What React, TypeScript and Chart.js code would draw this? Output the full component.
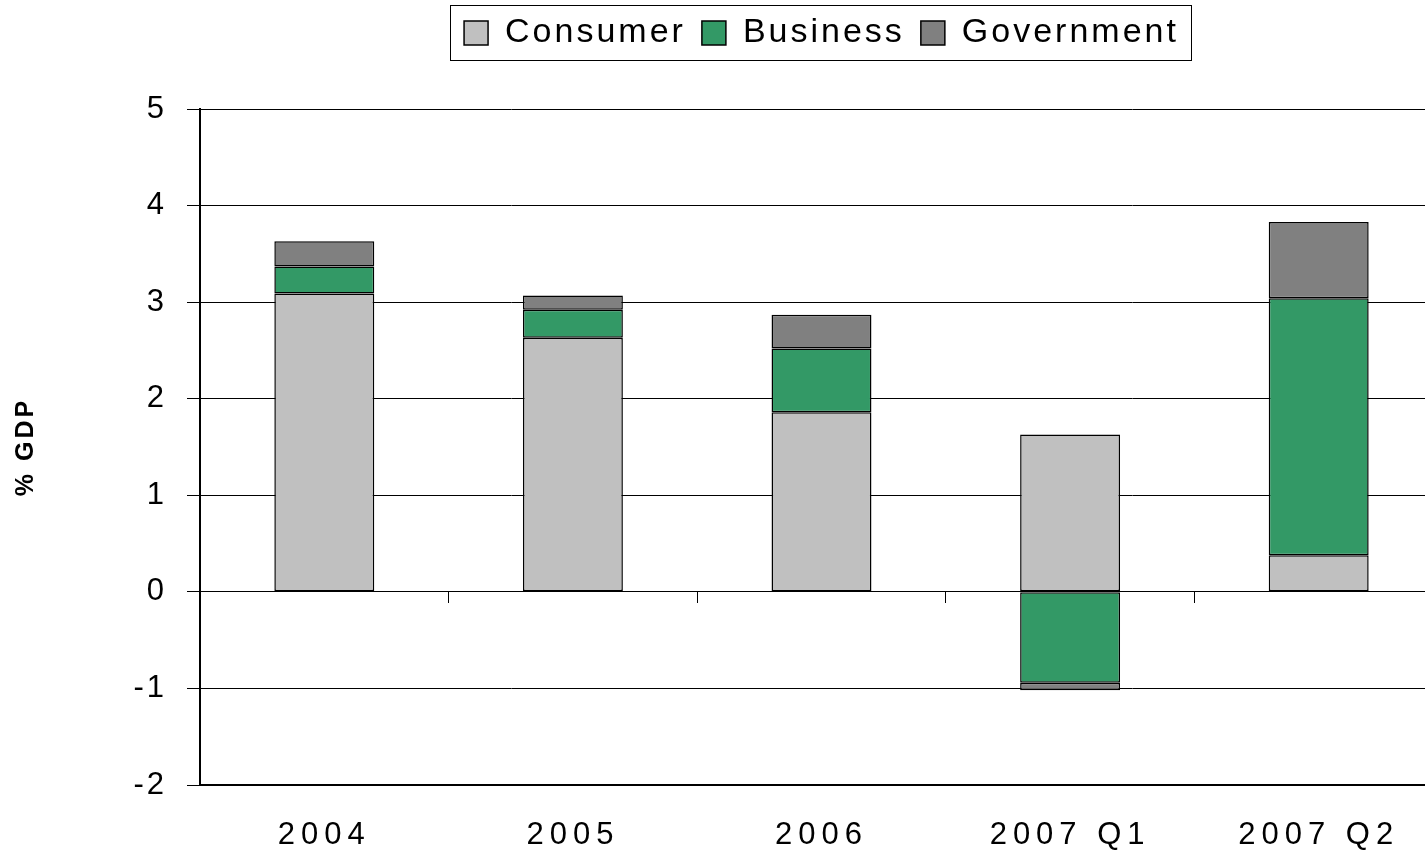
import React, { useEffect, useRef } from "react";
import { Chart, registerables } from "chart.js";

Chart.register(...registerables);

const categories = ["2004", "2005", "2006", "2007 Q1", "2007 Q2"];
const consumer = [3.09, 2.63, 1.86, 1.63, 0.38];
const business = [0.28, 0.29, 0.66, -0.94, 2.66];
const government = [0.26, 0.15, 0.35, -0.08, 0.79];
const yTicks = [-2, -1, 0, 1, 2, 3, 4, 5];

const FONT = "'Liberation Sans', Arial, sans-serif";

const spacingPlugin = {
  id: "spacingPlugin",
  beforeLayout(chart: any) {
    chart.ctx.letterSpacing = "3px";
  },
  afterLayout(chart: any) {
    const lg = chart.legend;
    if (lg) {
      const dy = lg.top;
      lg.top -= dy;
      lg.bottom -= dy;
      lg.left = chart.chartArea.left;
      lg.right = chart.chartArea.right;
      lg.width = lg.right - lg.left;
    }
  },
  beforeDraw(chart: any) {
    chart.ctx.letterSpacing = "3px";
  },
  afterDatasetsDraw(chart: any) {
    chart.ctx.letterSpacing = "6px";
  },
  afterDraw(chart: any) {
    const ctx = chart.ctx;
    ctx.letterSpacing = "0px";
    const lg = chart.legend;
    if (!lg || !lg.lineWidths) return;
    const pad = lg.options.labels.padding;
    const L = lg.lineWidths[0];
    const startX = (lg.left + pad + lg.right - L) / 2;
    const endX = startX + L - pad;
    ctx.save();
    ctx.strokeStyle = "#000";
    ctx.lineWidth = 1;
    ctx.strokeRect(Math.round(startX - 14) + 0.5, 5.5, Math.round(endX - startX + 26), 55);
    ctx.restore();
  },
};

export default function App() {
  const ref = useRef<HTMLCanvasElement | null>(null);

  useEffect(() => {
    if (!ref.current) return;
    Chart.defaults.font.family = FONT;
    const chart = new Chart(ref.current, {
      type: "bar",
      data: {
        labels: categories,
        datasets: [
          { label: "Consumer", data: consumer, backgroundColor: "#C0C0C0" },
          { label: "Business", data: business, backgroundColor: "#339966" },
          { label: "Government", data: government, backgroundColor: "#808080" },
        ].map((d) => ({
          ...d,
          borderColor: "#000",
          borderWidth: 1.5,
          borderSkipped: false,
          inflateAmount: 0,
          categoryPercentage: 1,
          barPercentage: 0.402,
          xAxisID: "x",
          yAxisID: "y",
        })),
      },
      options: {
        responsive: false,
        animation: false,
        devicePixelRatio: 1,
        layout: { padding: { top: 49, right: 7, left: 0, bottom: 0 } },
        plugins: {
          tooltip: { enabled: false },
          legend: {
            position: "top",
            labels: {
              color: "#000",
              font: { size: 34, family: FONT },
              boxWidth: 24,
              boxHeight: 24,
              padding: 16,
            },
          },
        },
        scales: {
          x: {
            type: "category",
            position: "bottom",
            stacked: true,
            offset: true,
            grid: { display: false, drawTicks: false, offset: true },
            border: { display: true, color: "#000", width: 2 },
            ticks: { color: "#000", font: { size: 31, family: FONT }, padding: 32, z: 1, maxRotation: 0, autoSkip: false },
            afterFit: (s: any) => {
              s.height = 70;
            },
          },
          x0: {
            type: "category",
            axis: "x",
            position: { y: 0 },
            offset: true,
            grid: { display: true, offset: true, drawOnChartArea: false, drawTicks: true, tickLength: 11, color: "#000", lineWidth: 1 },
            border: { display: true, color: "#000", width: 1 },
            ticks: { display: false },
          },
          y: {
            type: "linear",
            position: "left",
            stacked: true,
            min: -2,
            max: 5,
            afterBuildTicks: (s: any) => {
              s.ticks = yTicks.map((v) => ({ value: v }));
            },
            grid: { color: "#000", lineWidth: 1, tickLength: 13, drawTicks: true },
            border: { display: true, color: "#000", width: 2 },
            ticks: { color: "#000", font: { size: 31, family: FONT }, padding: 20 },
            title: {
              display: true,
              text: "% GDP",
              color: "#000",
              font: { size: 25, weight: "bold", family: FONT },
              padding: { top: 11, bottom: 0 },
            },
            afterFit: (s: any) => {
              s.width = 200;
            },
          },
        },
      } as any,
      plugins: [spacingPlugin],
    });
    return () => chart.destroy();
  }, []);

  return (
    <div style={{ position: "fixed", left: 0, top: 0, width: 1425, height: 855, overflow: "hidden", background: "#fff" }}>
      <canvas ref={ref} width={1450} height={855} style={{ width: 1450, height: 855, display: "block" }} />
    </div>
  );
}
